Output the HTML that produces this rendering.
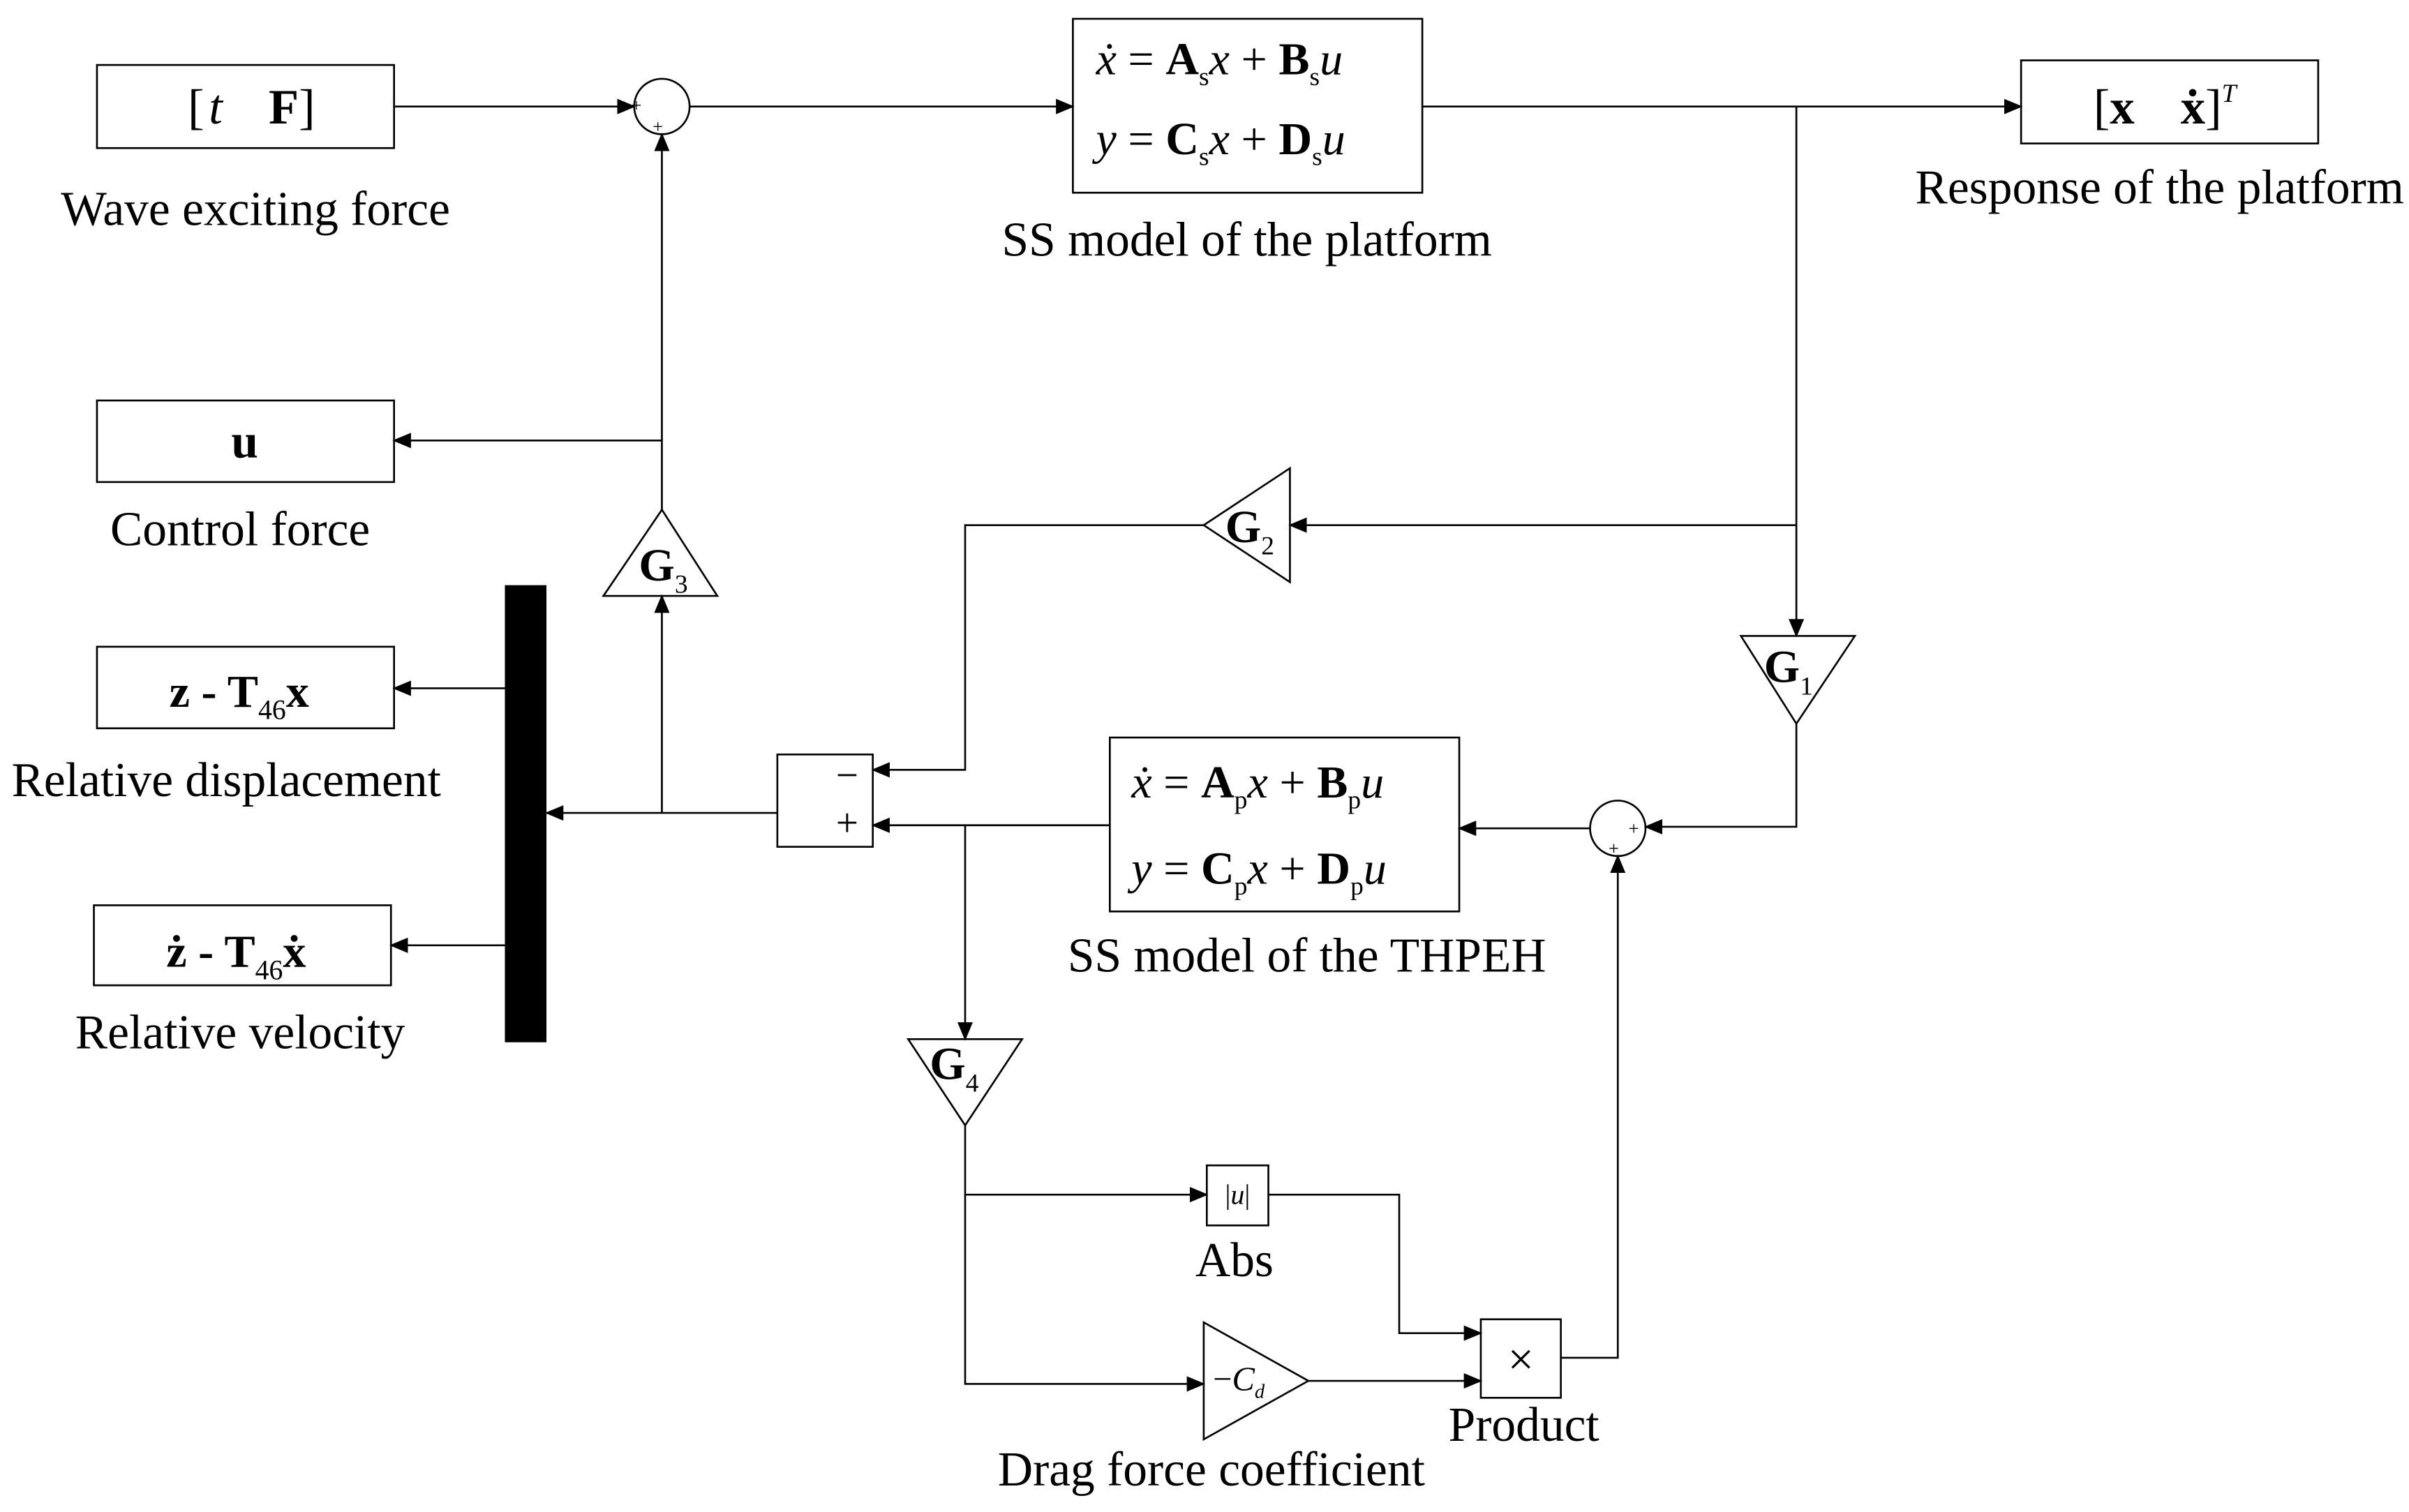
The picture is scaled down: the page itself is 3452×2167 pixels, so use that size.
<!DOCTYPE html>
<html><head><meta charset="utf-8"><style>
html,body{margin:0;padding:0;background:#fff;}
svg{display:block;}
text{font-family:"Liberation Serif",serif;fill:#000;}
.l{font-size:31.5px;text-anchor:middle;}
.b{font-weight:bold;}
</style></head><body>
<svg width="3452" height="2167" viewBox="0 0 1565 982" xmlns="http://www.w3.org/2000/svg">
<defs><marker id="a" markerWidth="12" markerHeight="10" refX="11" refY="5" orient="auto" markerUnits="userSpaceOnUse"><path d="M0,0 L12,5 L0,10 Z" fill="#000"/></marker></defs>
<g fill="none" stroke="#000" stroke-width="1.2">
<rect x="63" y="42" width="193" height="54"/>
<rect x="697" y="12" width="227" height="113"/>
<rect x="1313" y="39" width="193" height="54"/>
<rect x="63" y="260" width="193" height="53"/>
<rect x="63" y="420" width="193" height="53"/>
<rect x="61" y="588" width="193" height="52"/>
<rect x="721" y="479" width="227" height="113"/>
<rect x="505" y="490" width="62" height="60"/>
<rect x="784" y="757" width="40" height="39"/>
<rect x="962" y="857" width="52" height="51"/>
<circle cx="430" cy="69" r="18"/>
<circle cx="1051" cy="538" r="18"/>
<path d="M838,304 L838,378 L782,341 Z"/>
<path d="M1131,413 L1205,413 L1167,470 Z"/>
<path d="M392,387 L466,387 L430,331 Z"/>
<path d="M590,675 L664,675 L627,731 Z"/>
<path d="M782,859 L782,935 L850,897 Z"/>
<g marker-end="url(#a)">
<path d="M256,69 L412,69"/>
<path d="M448,69 L697,69"/>
<path d="M924,69 L1313,69"/>
<path d="M1167,69 L1167,413"/>
<path d="M1167,341 L838,341"/>
<path d="M782,341 L627,341 L627,500 L567,500"/>
<path d="M1167,470 L1167,537 L1069,537"/>
<path d="M1033,538 L948,538"/>
<path d="M721,536 L567,536"/>
<path d="M627,536 L627,675"/>
<path d="M627,731 L627,776 L784,776"/>
<path d="M627,776 L627,899 L782,899"/>
<path d="M850,897 L962,897"/>
<path d="M824,776 L909,776 L909,866 L962,866"/>
<path d="M1014,882 L1051,882 L1051,556"/>
<path d="M505,528 L355,528"/>
<path d="M430,528 L430,387"/>
<path d="M430,331 L430,87"/>
<path d="M430,286 L256,286"/>
<path d="M328,447 L256,447"/>
<path d="M328,614 L254,614"/>
</g>
</g>
<text x="988" y="893" font-size="30" text-anchor="middle">×</text>
<rect x="328" y="380" width="27" height="297" fill="#000"/>
<text x="122" y="80" font-size="32">[<tspan font-style="italic" dx="3">t</tspan><tspan class="b" dx="30">F</tspan>]</text>
<text x="166" y="146" class="l">Wave exciting force</text>
<text x="712" y="48" font-size="30"><tspan font-style="italic">ẋ</tspan> = <tspan class="b">A</tspan><tspan font-size="17" dy="7">s</tspan><tspan dy="-7" font-style="italic">x</tspan> + <tspan class="b">B</tspan><tspan font-size="17" dy="7">s</tspan><tspan dy="-7" font-style="italic">u</tspan></text>
<text x="712" y="100" font-size="30"><tspan font-style="italic">y</tspan> = <tspan class="b">C</tspan><tspan font-size="17" dy="7">s</tspan><tspan dy="-7" font-style="italic">x</tspan> + <tspan class="b">D</tspan><tspan font-size="17" dy="7">s</tspan><tspan dy="-7" font-style="italic">u</tspan></text>
<text x="810" y="166" class="l">SS model of the platform</text>
<text x="1360" y="80" font-size="32">[<tspan class="b">x</tspan><tspan class="b" dx="30">ẋ</tspan>]<tspan font-size="17" dy="-14" font-style="italic">T</tspan></text>
<text x="1403" y="132" class="l">Response of the platform</text>
<text x="159" y="297" class="l b" font-size="30">u</text>
<text x="156" y="354" class="l">Control force</text>
<text x="110" y="459" font-size="30" class="b">z - T<tspan font-size="18" dy="8" font-weight="normal">46</tspan><tspan dy="-8">x</tspan></text>
<text x="147" y="517" class="l">Relative displacement</text>
<text x="108" y="628" font-size="30" class="b">ż - T<tspan font-size="18" dy="8" font-weight="normal">46</tspan><tspan dy="-8">ẋ</tspan></text>
<text x="156" y="681" class="l">Relative velocity</text>
<text x="796" y="352" font-size="30" class="b">G<tspan font-size="17" dy="8" font-weight="normal">2</tspan></text>
<text x="1146" y="443" font-size="30" class="b">G<tspan font-size="17" dy="8" font-weight="normal">1</tspan></text>
<text x="415" y="377" font-size="30" class="b">G<tspan font-size="17" dy="8" font-weight="normal">3</tspan></text>
<text x="604" y="701" font-size="30" class="b">G<tspan font-size="17" dy="8" font-weight="normal">4</tspan></text>
<text x="543" y="512" font-size="26">−</text>
<text x="543" y="543" font-size="26">+</text>
<text x="410" y="72" font-size="12">+</text>
<text x="424" y="86" font-size="12">+</text>
<text x="1058" y="542" font-size="12">+</text>
<text x="1045" y="555" font-size="12">+</text>
<text x="735" y="518" font-size="30"><tspan font-style="italic">ẋ</tspan> = <tspan class="b">A</tspan><tspan font-size="17" dy="7">p</tspan><tspan dy="-7" font-style="italic">x</tspan> + <tspan class="b">B</tspan><tspan font-size="17" dy="7">p</tspan><tspan dy="-7" font-style="italic">u</tspan></text>
<text x="735" y="574" font-size="30"><tspan font-style="italic">y</tspan> = <tspan class="b">C</tspan><tspan font-size="17" dy="7">p</tspan><tspan dy="-7" font-style="italic">x</tspan> + <tspan class="b">D</tspan><tspan font-size="17" dy="7">p</tspan><tspan dy="-7" font-style="italic">u</tspan></text>
<text x="849" y="631" class="l">SS model of the THPEH</text>
<text x="804" y="782" font-size="18" text-anchor="middle">|<tspan font-style="italic">u</tspan>|</text>
<text x="802" y="829" class="l">Abs</text>
<text x="788" y="903" font-size="22">−<tspan font-style="italic">C</tspan><tspan font-size="13" dy="5" font-style="italic">d</tspan></text>
<text x="990" y="936" class="l">Product</text>
<text x="787" y="965" class="l">Drag force coefficient</text>
</svg>
</body></html>
